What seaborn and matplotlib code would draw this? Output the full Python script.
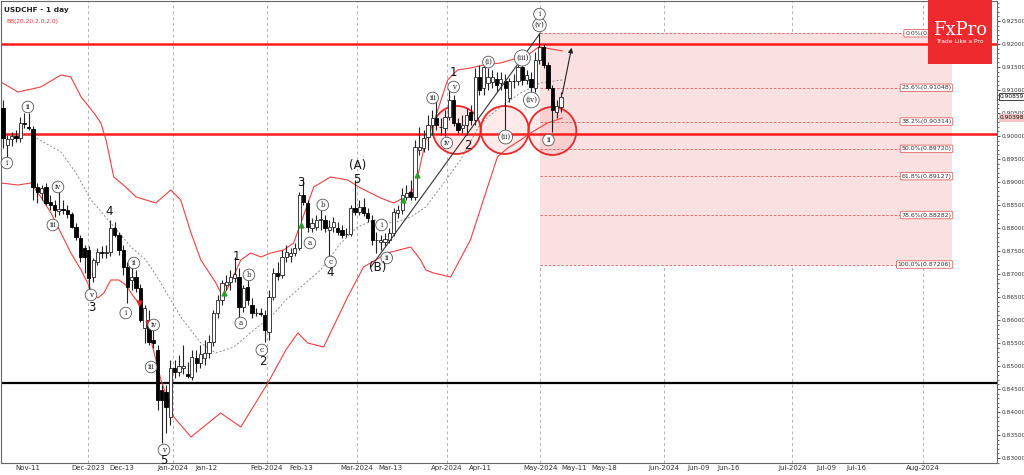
import numpy as np
import pandas as pd
import matplotlib.pyplot as plt
import seaborn as sns
from matplotlib.patches import Ellipse, Rectangle
import matplotlib.transforms as mtransforms

sns.set_style("white")
plt.rcParams['font.family'] = ['DejaVu Sans']

# daily candles (bar index = position)
opens = [0.90609, 0.89804, 0.89935, 0.90000, 0.89956, 0.90283, 0.90196, 0.90153, 0.88891, 0.88761,
         0.88891, 0.88566, 0.88500, 0.88370, 0.88413, 0.88392, 0.88304, 0.88022, 0.87783, 0.87566,
         0.87522, 0.86935, 0.87261, 0.87479, 0.87457, 0.87479, 0.88000, 0.87848, 0.87522, 0.87152,
         0.86870, 0.86935, 0.86696, 0.85826, 0.86000, 0.85565, 0.85348, 0.84478, 0.84435, 0.83891,
         0.84957, 0.84870, 0.84957, 0.84826, 0.84761, 0.85174, 0.85065, 0.85174, 0.85283, 0.85522,
         0.86152, 0.86435, 0.86761, 0.86826, 0.86913, 0.86935, 0.86283, 0.86717, 0.86326, 0.86152,
         0.86152, 0.86109, 0.85739, 0.86500, 0.87022, 0.86979, 0.87370, 0.87392, 0.87457, 0.87566,
         0.88718, 0.88544, 0.88000, 0.88022, 0.88174, 0.88174, 0.87957, 0.88022, 0.88000, 0.87957,
         0.87870, 0.87870, 0.88435, 0.88348, 0.88457, 0.88326, 0.88174, 0.87739, 0.87696, 0.87696,
         0.87739, 0.87891, 0.88326, 0.88392, 0.88674, 0.88783, 0.88674, 0.89696, 0.89739, 0.89978,
         0.90240, 0.90392, 0.90196, 0.90174, 0.90413, 0.90783, 0.90283, 0.90174, 0.90240, 0.90522,
         0.90348, 0.91283, 0.91044, 0.91153, 0.91174, 0.91240, 0.91153, 0.91196, 0.90827, 0.91196,
         0.91196, 0.91500, 0.91218, 0.91240, 0.91044, 0.91653, 0.91935, 0.91544, 0.91044, 0.90522,
         0.90631]
highs = [0.90783, 0.90022, 0.90087, 0.90131, 0.90413, 0.90500, 0.90500, 0.90218, 0.88978, 0.88935,
         0.88978, 0.88718, 0.88609, 0.88826, 0.88609, 0.88500, 0.88348, 0.88109, 0.87848, 0.87631,
         0.87609, 0.87348, 0.87566, 0.87609, 0.87631, 0.88174, 0.88131, 0.87913, 0.87631, 0.87261,
         0.87261, 0.87087, 0.86783, 0.86326, 0.86218, 0.85892, 0.85457, 0.84587, 0.84587, 0.85131,
         0.85131, 0.85240, 0.85457, 0.85087, 0.85348, 0.85348, 0.85457, 0.85565, 0.85674, 0.86218,
         0.86544, 0.86870, 0.86979, 0.87087, 0.87370, 0.87131, 0.86761, 0.86870, 0.86479, 0.86261,
         0.86261, 0.86218, 0.86652, 0.87131, 0.87261, 0.87522, 0.87631, 0.87566, 0.87674, 0.88783,
         0.89044, 0.88609, 0.88217, 0.88283, 0.88392, 0.88283, 0.88174, 0.88239, 0.88131, 0.88065,
         0.88000, 0.88500, 0.89044, 0.88609, 0.88652, 0.88435, 0.88283, 0.87913, 0.87848, 0.87891,
         0.88000, 0.88435, 0.88500, 0.88870, 0.88935, 0.89044, 0.89913, 0.90196, 0.90131, 0.90457,
         0.90566, 0.90783, 0.90392, 0.90566, 0.91044, 0.90892, 0.90392, 0.90457, 0.90609, 0.90674,
         0.91479, 0.91544, 0.91609, 0.91479, 0.91435, 0.91392, 0.91392, 0.91348, 0.91261, 0.91348,
         0.91696, 0.91761, 0.91435, 0.91392, 0.91827, 0.92240, 0.92000, 0.91609, 0.91109, 0.90783,
         0.90957]
lows = [0.89739, 0.89479, 0.89783, 0.89870, 0.89870, 0.90174, 0.90131, 0.88609, 0.88544, 0.88609,
        0.88500, 0.88392, 0.88239, 0.88283, 0.88304, 0.88217, 0.88000, 0.87739, 0.87261, 0.87022,
        0.86652, 0.86826, 0.87196, 0.87348, 0.87348, 0.87392, 0.87804, 0.87413, 0.86979, 0.86370,
        0.86652, 0.86609, 0.85957, 0.85500, 0.85457, 0.85392, 0.84043, 0.83326, 0.83543, 0.83717,
        0.84739, 0.84783, 0.84826, 0.84739, 0.84696, 0.84870, 0.84957, 0.85022, 0.85174, 0.85435,
        0.86044, 0.86326, 0.86652, 0.86652, 0.86826, 0.86044, 0.86174, 0.86326, 0.86044, 0.86087,
        0.86087, 0.85522, 0.85565, 0.86435, 0.86870, 0.86913, 0.87261, 0.87261, 0.87392, 0.87522,
        0.88500, 0.87913, 0.87913, 0.87957, 0.87957, 0.87913, 0.87370, 0.87913, 0.87848, 0.87783,
        0.87804, 0.87826, 0.88283, 0.88283, 0.88261, 0.88131, 0.87631, 0.87457, 0.87522, 0.87609,
        0.87674, 0.87826, 0.88217, 0.88304, 0.88609, 0.88609, 0.88609, 0.89587, 0.89652, 0.89696,
        0.90022, 0.90131, 0.90022, 0.90000, 0.90348, 0.90218, 0.90065, 0.90065, 0.90022, 0.90240,
        0.90240, 0.90892, 0.90892, 0.91000, 0.91044, 0.90957, 0.91000, 0.90131, 0.90739, 0.91044,
        0.91109, 0.91109, 0.91131, 0.90892, 0.90957, 0.91566, 0.91479, 0.91000, 0.90087, 0.90392,
        0.90522]
closes = [0.89956, 0.89935, 0.90000, 0.89956, 0.90283, 0.90261, 0.90174, 0.88891, 0.88783, 0.88870,
          0.88544, 0.88500, 0.88392, 0.88413, 0.88392, 0.88304, 0.88022, 0.87804, 0.87370, 0.87370,
          0.86913, 0.87305, 0.87479, 0.87457, 0.87479, 0.88000, 0.87848, 0.87522, 0.87152, 0.86717,
          0.86935, 0.86696, 0.86000, 0.86261, 0.85522, 0.85500, 0.84261, 0.84261, 0.84109, 0.84957,
          0.84870, 0.85000, 0.85000, 0.84783, 0.85196, 0.85065, 0.85261, 0.85283, 0.85522, 0.86152,
          0.86435, 0.86804, 0.86826, 0.86935, 0.87000, 0.86283, 0.86696, 0.86435, 0.86152, 0.86152,
          0.86131, 0.85783, 0.86500, 0.87022, 0.86957, 0.87370, 0.87479, 0.87457, 0.87566, 0.88718,
          0.88566, 0.88022, 0.88109, 0.88174, 0.88196, 0.88000, 0.88022, 0.88131, 0.87913, 0.87848,
          0.87880, 0.88435, 0.88348, 0.88457, 0.88326, 0.88217, 0.87739, 0.87745, 0.87739, 0.87761,
          0.87891, 0.88348, 0.88392, 0.88718, 0.88761, 0.88674, 0.89761, 0.89761, 0.89956, 0.90240,
          0.90392, 0.90240, 0.90190, 0.90413, 0.90783, 0.90283, 0.90131, 0.90240, 0.90457, 0.90348,
          0.91283, 0.91000, 0.91500, 0.91283, 0.91283, 0.91109, 0.91240, 0.91044, 0.91196, 0.91190,
          0.91500, 0.91218, 0.91327, 0.91066, 0.91653, 0.91935, 0.91544, 0.91044, 0.90566, 0.90653,
          0.90848]

# Bollinger band (20, 2) at sample bars
bb_up_x = [-0.5, 3.5, 8.8, 13.5, 15.8, 18.2, 21.2, 22.8, 24.0, 25.8, 28.6, 31.0, 33.3, 35.6, 39.1,
           41.4, 43.8, 46.1, 49.6, 51.2, 53.1, 55.4, 57.7, 60.1, 62.4, 65.4, 67.7, 69.4, 72.4, 76.3,
           80.3, 83.3, 88.0, 91.0, 93.3, 96.1, 98.5, 100.3, 103.6, 105.9, 108.9, 112.0, 115.9, 120.6,
           122.9, 124.8, 126.4, 130.3]
bb_up = [0.91174, 0.90957, 0.91066, 0.91327, 0.91283, 0.90848, 0.90500, 0.90283, 0.89913, 0.89109,
         0.88891, 0.88674, 0.88609, 0.88544, 0.88826, 0.88609, 0.87891, 0.87305, 0.86804, 0.86500,
         0.86826, 0.87305, 0.87457, 0.87370, 0.87457, 0.87522, 0.87674, 0.88109, 0.88891, 0.89109,
         0.89044, 0.88870, 0.88652, 0.88544, 0.88652, 0.88891, 0.89913, 0.90283, 0.91218, 0.91435,
         0.91479, 0.91544, 0.91587, 0.91718, 0.91805, 0.91935, 0.91913, 0.91850]
bb_lo_x = [-0.5, 3.5, 6.5, 8.8, 11.2, 13.5, 15.8, 18.2, 20.5, 22.1, 23.5, 25.1, 27.0, 28.6, 30.5,
           32.1, 33.3, 36.8, 39.8, 43.8, 50.7, 55.4, 61.7, 65.9, 68.7, 71.0, 74.7, 80.3, 84.0, 89.6,
           95.0, 97.3, 98.5, 100.3, 104.3, 108.9, 112.9, 115.2, 117.6, 120.6, 122.9, 126.9, 130.3]
bb_lo = [0.88978, 0.88935, 0.88978, 0.88674, 0.88326, 0.87891, 0.87457, 0.87087, 0.86652, 0.86479,
         0.86587, 0.86870, 0.86870, 0.86761, 0.86500, 0.86326, 0.86000, 0.84696, 0.83891, 0.83457,
         0.83978, 0.83674, 0.84630, 0.85348, 0.85718, 0.85500, 0.85413, 0.86500, 0.87152, 0.87457,
         0.87587, 0.87305, 0.87087, 0.87022, 0.86935, 0.87739, 0.88891, 0.89544, 0.89739, 0.89913,
         0.90065, 0.90283, 0.90392]
bb_mid_x = [3.5, 6.5, 13.5, 17.0, 20.5, 25.1, 29.8, 33.3, 36.8, 41.4, 46.1, 49.6, 53.8, 58.4, 62.4,
            65.9, 69.4, 74.0, 78.7, 82.6, 86.4, 91.0, 95.0, 98.5, 102.0, 106.6, 111.3, 115.9, 120.6,
            125.2, 130.3]
bb_mid = [0.90040, 0.90022, 0.89652, 0.89196, 0.88609, 0.88109, 0.87587, 0.87305, 0.86804, 0.86066,
          0.85500, 0.85283, 0.85413, 0.85783, 0.86066, 0.86435, 0.86717, 0.87087, 0.87674, 0.88022,
          0.88174, 0.88109, 0.88239, 0.88457, 0.88891, 0.89479, 0.90283, 0.90631, 0.90935, 0.91153,
          0.91218]

tick_pos = [5.8, 19.8, 27.7, 39.6, 47.5, 61.5, 69.4, 82.4, 90.3, 103.4, 111.3, 125.2, 133.1, 140.1,
            153.9, 162.0, 169.0, 183.9, 191.8, 198.8, 214.4, 222.5, 229.5]
tick_lab = ["Nov-11", "Dec-2023", "Dec-13", "Jan-2024", "Jan-12", "Feb-2024", "Feb-13", "Mar-2024",
            "Mar-13", "Apr-2024", "Apr-11", "May-2024", "May-11", "May-18", "Jun-2024", "Jun-09",
            "Jun-16", "Jul-2024", "Jul-09", "Jul-16", "Aug-2024", "", ""]
month_pos = [19.8, 39.6, 61.5, 82.4, 103.4, 125.2, 153.9, 183.9, 214.4]

fib_pct = [0.0, 23.6, 38.2, 50.0, 61.8, 78.6, 100.0]
fib_val = [0.92234, 0.91048, 0.90314, 0.89720, 0.89127, 0.88282, 0.87206]

level_red = [0.92000, 0.90050]
level_black = 0.84630

# wave labels: (bar, price, text)
waves_circled = [(0.9, 0.89413, "i"), (5.8, 0.90631, "ii"), (11.6, 0.88065, "iii"), (12.8, 0.88891, "iv"),
                 (20.5, 0.86544, "v"), (28.6, 0.86152, "i"), (30.5, 0.87239, "ii"), (34.5, 0.84978, "iii"),
                 (35.1, 0.85892, "iv"), (37.5, 0.83174, "v"), (55.4, 0.85935, "a"), (57.3, 0.86979, "b"),
                 (60.3, 0.85348, "c"), (71.5, 0.87674, "a"), (74.5, 0.88500, "b"), (76.3, 0.87261, "c"),
                 (88.2, 0.88065, "i"), (89.4, 0.87348, "ii"), (100.1, 0.90827, "iii"), (103.4, 0.89848, "iv"),
                 (105.0, 0.91066, "v"), (113.1, 0.91609, "(i)"), (117.1, 0.89978, "(ii)"),
                 (121.0, 0.91696, "(iii)"), (123.1, 0.90783, "(iv)"), (125.0, 0.92413, "(v)"),
                 (125.0, 0.92650, "i"), (127.1, 0.89913, "ii")]
waves_plain = [(20.7, 0.86261, "3"), (24.7, 0.88348, "4"), (37.5, 0.82950, "5"), (54.5, 0.87370, "1"),
               (60.5, 0.85087, "2"), (69.4, 0.89000, "3"), (76.3, 0.87022, "4"), (82.4, 0.89044, "5"),
               (82.6, 0.89348, "(A)"), (87.3, 0.87152, "(B)"), (105.0, 0.91370, "1"), (108.2, 0.89804, "2")]

circles = [(105.7, 0.90131), (116.9, 0.90131), (128.0, 0.90109)]

df = pd.DataFrame({"open": opens, "high": highs, "low": lows, "close": closes})
df["bar"] = np.arange(len(df))
up = df["close"] >= df["open"]

fig = plt.figure(figsize=(10.24, 4.75), dpi=100)
ax = fig.add_axes([1 / 1024, 12 / 475, 996 / 1024, 462 / 475])
ax.set_xlim(-0.47, 231.6)
ax.set_ylim(0.82891, 0.92935)

# month grid
for m in month_pos:
    ax.axvline(m, color="#b0b0b0", lw=0.7, ls=(0, (3, 3)), zorder=0)

# fibonacci zone
ax.add_patch(Rectangle((125.2, fib_val[-1]), 221.1 - 125.2, fib_val[0] - fib_val[-1],
                       facecolor="#f9e1e1", edgecolor="none", zorder=0.5))
for p, v in zip(fib_pct, fib_val):
    ax.plot([125.2, 214.0], [v, v], color="#e05a5a", lw=0.6, ls=(0, (3, 2)), zorder=1)
    ax.text(221.0, v, f"{p:.1f}%({v:.5f})", fontsize=4.5, ha="right", va="center", color="#333333",
            zorder=6, bbox=dict(boxstyle="round,pad=0.2", fc="white", ec="#e06060", lw=0.6))

# levels
for lv in level_red:
    ax.axhline(lv, color="#ff1a1a", lw=1.8, zorder=2)
ax.axhline(level_black, color="black", lw=1.6, zorder=2)

# bollinger
sns.lineplot(x=bb_up_x, y=bb_up, ax=ax, color="#f04040", lw=0.8, zorder=2)
sns.lineplot(x=bb_lo_x, y=bb_lo, ax=ax, color="#f04040", lw=0.8, zorder=2)
sns.lineplot(x=bb_mid_x, y=bb_mid, ax=ax, color="#8c8c8c", lw=0.7, ls=(0, (2, 2)), zorder=2)

# circles drawn in pixel-round shape
for cx, cy in circles:
    ax.add_patch(Ellipse((cx, cy), 48 / 4.296, 48 / 4600, facecolor=(1, 0.3, 0.3, 0.12),
                         edgecolor="#e8282a", lw=1.3, zorder=3))

# candles
ax.vlines(df["bar"], df["low"], df["high"], color="#222222", lw=0.8, zorder=4)
body_lo = np.minimum(df["open"], df["close"])
body_h = np.maximum(np.abs(df["close"] - df["open"]), 0.00008)
ax.bar(df["bar"][up], body_h[up], bottom=body_lo[up], width=0.75, color="white", edgecolor="#222222",
       lw=0.6, zorder=5)
ax.bar(df["bar"][~up], body_h[~up], bottom=body_lo[~up], width=0.75, color="black", edgecolor="black",
       lw=0.6, zorder=5)

# trend line and projection arrow
ax.plot([85.7, 125.2], [0.87152, 0.92240], color="#333333", lw=0.8, zorder=6)
ax.annotate("", xy=(132.6, 0.91979), xytext=(130.2, 0.90860),
            arrowprops=dict(arrowstyle="-|>", color="#222222", lw=0.8, mutation_scale=7), zorder=6)

# signal arrows
ax.plot([51.4, 69.4, 93.3, 96.4], [0.86587, 0.88065, 0.88609, 0.89153], ls="none", marker="^",
        ms=3.5, color="#2e9e2e", zorder=7)
ax.plot([31.7, 33.8], [0.86370, 0.85935], ls="none", marker="v", ms=3.5, color="#d03030", zorder=7)

# wave labels
for x, y, t in waves_circled:
    ax.text(x, y, t, fontsize=5.2, family="DejaVu Serif", ha="center", va="center", color="#222222",
            zorder=8, bbox=dict(boxstyle="circle,pad=0.25", fc="white", ec="#555555", lw=0.6))
for x, y, t in waves_plain:
    ax.text(x, y, t, fontsize=8.5, ha="center", va="center", color="#111111", zorder=8)

# axes styling
ax.yaxis.tick_right()
ax.set_yticks(np.arange(0.830, 0.9251, 0.005))
ax.set_yticks(np.arange(0.829, 0.9291, 0.001), minor=True)
ax.set_yticklabels([f"{v:.5f}" for v in np.arange(0.830, 0.9251, 0.005)])
ax.tick_params(axis="y", which="major", direction="out", length=2.5, width=0.6, labelsize=4.2,
               colors="#333333", pad=0.5)
ax.tick_params(axis="y", which="minor", direction="out", length=1.5, width=0.5, colors="#333333")
ax.set_xticks(tick_pos)
ax.set_xticklabels(tick_lab)
ax.tick_params(axis="x", direction="in", length=3, width=0.6, labelsize=5, colors="#333333", pad=1.5)
for s in ax.spines.values():
    s.set_color("#666666")
    s.set_linewidth(0.8)
ax.set_xlabel("")
ax.set_ylabel("")

# price tags on the right scale
tr = mtransforms.blended_transform_factory(ax.transAxes, ax.transData)
ax.text(1.003, 0.90859, "0.90859", transform=tr, fontsize=4.2, va="center", ha="left", color="#111111",
        zorder=9, clip_on=False, bbox=dict(boxstyle="square,pad=0.12", fc="white", ec="#222222", lw=0.6))
ax.text(1.003, 0.90398, "0.90398", transform=tr, fontsize=4.2, va="center", ha="left", color="#111111",
        zorder=9, clip_on=False, bbox=dict(boxstyle="square,pad=0.12", fc="#f4c4c4", ec="#f4c4c4", lw=0.6))

# header
ax.text(0.003, 0.988, "USDCHF - 1 day", transform=ax.transAxes, fontsize=5.3, fontweight="bold",
        color="#222222", va="top", ha="left", zorder=9)
ax.text(0.005, 0.962, "BB(20,20,2.0,2.0)", transform=ax.transAxes, fontsize=4.2, color="#ee3333",
        va="top", ha="left", zorder=9)

# logo
ax.add_patch(Rectangle((0.9307, 0.8636), 0.0643, 0.1364 + 0.01, transform=ax.transAxes,
                       facecolor="#ee2a2e", edgecolor="none", zorder=10, clip_on=False))
ax.text(0.9628, 0.937, "FxPro", transform=ax.transAxes, fontsize=13, family="DejaVu Serif",
        color="white", ha="center", va="center", zorder=11)
ax.text(0.9628, 0.912, "Trade Like a Pro", transform=ax.transAxes, fontsize=4.3, color="white",
        ha="center", va="center", zorder=11)

fig.savefig("out.png", dpi=100)
